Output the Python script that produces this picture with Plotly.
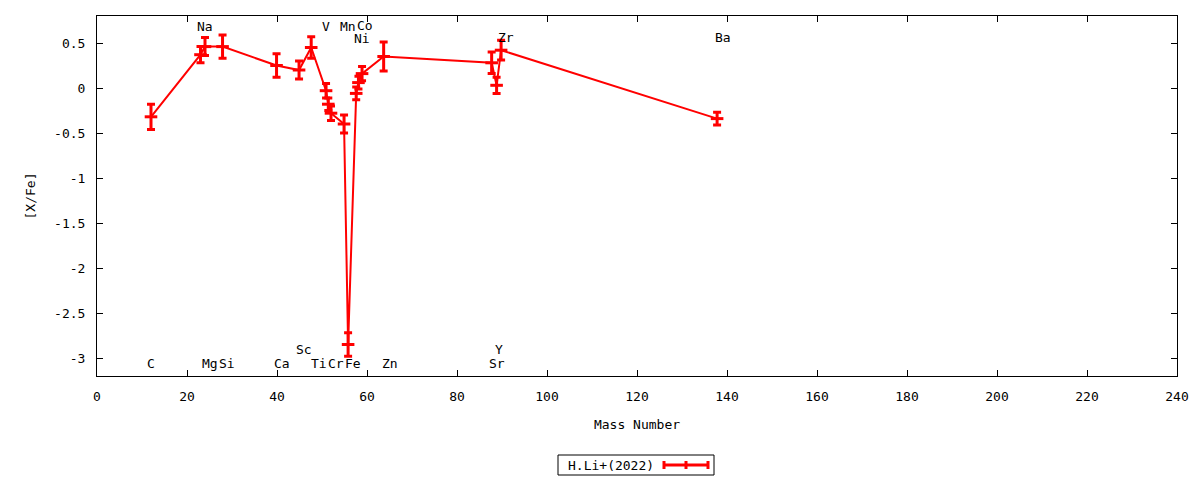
import plotly.graph_objects as go

# mass number, [X/Fe] and error for each measured point (line order)
mass = [12.0, 23.0, 24.0, 27.9, 39.9, 44.9, 47.6, 50.9, 51.4, 52.0,
        54.9, 55.8, 57.6, 58.1, 58.9, 63.7, 87.7, 88.8, 89.8, 137.8]
xfe = [-0.32, 0.37, 0.46, 0.46, 0.25, 0.20, 0.45, -0.03, -0.18, -0.28,
       -0.40, -2.85, -0.06, 0.06, 0.16, 0.35, 0.28, 0.03, 0.42, -0.34]
err = [0.14, 0.09, 0.10, 0.13, 0.13, 0.10, 0.12, 0.08, 0.07, 0.08,
       0.10, 0.13, 0.07, 0.07, 0.08, 0.16, 0.12, 0.09, 0.11, 0.07]

# element labels (text, x, y) as placed on the plot
label_text = ["Na", "V", "Mn", "Co", "Ni", "Zr", "Ba",
              "C", "Mg", "Si", "Ca", "Ti", "Cr", "Fe", "Zn", "Sr", "Sc", "Y"]
label_x = [24.0, 50.9, 55.8, 59.6, 58.9, 90.9, 139.1,
           12.0, 25.0, 28.8, 41.1, 49.3, 53.0, 56.9, 65.1, 88.9, 45.9, 89.3]
label_y = [0.68, 0.68, 0.68, 0.69, 0.55, 0.56, 0.56,
           -3.06, -3.06, -3.06, -3.06, -3.06, -3.06, -3.06, -3.06, -3.06, -2.9, -2.9]

RED = "#ff0000"
FONT = "DejaVu Sans Mono"

fig = go.Figure()
fig.add_trace(go.Scatter(
    x=mass, y=xfe,
    mode="lines+markers",
    line=dict(color=RED, width=2),
    marker=dict(symbol="line-ew-open", size=9, color=RED,
                line=dict(color=RED, width=3)),
    error_y=dict(type="data", array=err, color=RED, thickness=3, width=4),
    name="H.Li+(2022)",
    showlegend=False,
))

for t, x, y in zip(label_text, label_x, label_y):
    fig.add_annotation(x=x, y=y, text=t, showarrow=False,
                       xanchor="center", yanchor="middle", borderpad=0,
                       font=dict(family=FONT, size=13, color="black"))


# hand-built legend box (gnuplot style: text left, sample right)
# pixel -> paper, relative to the plot area (x 97..1177, y 16..376)
def px(x):
    return (x - 97) / 1080


def py(y):
    return (376 - y) / 360


fig.add_shape(type="rect", xref="paper", yref="paper",
              x0=px(558), x1=px(714), y0=py(475), y1=py(455),
              line=dict(color="black", width=1))
fig.add_annotation(xref="paper", yref="paper", x=px(611), y=py(465),
                   text="H.Li+(2022)", showarrow=False,
                   xanchor="center", yanchor="middle",
                   font=dict(family=FONT, size=13, color="black"))
fig.add_shape(type="line", xref="paper", yref="paper",
              x0=px(664), x1=px(708), y0=py(465), y1=py(465),
              line=dict(color=RED, width=3))
for cx in (664, 686, 708):
    fig.add_shape(type="line", xref="paper", yref="paper",
                  x0=px(cx), x1=px(cx), y0=py(461), y1=py(469),
                  line=dict(color=RED, width=3))

axis_common = dict(
    showline=True, linecolor="black", linewidth=1, mirror="ticks",
    ticks="inside", ticklen=6, tickcolor="black", tickwidth=1,
    showgrid=False, zeroline=False,
    tickfont=dict(family=FONT, size=13, color="black"),
)

fig.update_xaxes(range=[0, 240], dtick=20, tick0=0,
                 ticklabelstandoff=8,
                 title=dict(text="Mass Number", standoff=17,
                            font=dict(family=FONT, size=13, color="black")),
                 **axis_common)
fig.update_yaxes(range=[-3.2, 0.8], tickvals=[0.5, 0, -0.5, -1, -1.5, -2, -2.5, -3],
                 ticktext=["0.5", "0", "-0.5", "-1", "-1.5", "-2", "-2.5", "-3"],
                 ticklabelstandoff=8,
                 title=dict(text="[X/Fe]", standoff=15,
                            font=dict(family=FONT, size=13, color="black")),
                 **axis_common)

# page body adds an 8px offset, so margins are shifted to keep the
# plot area at x 97..1177, y 16..376 in the window
fig.update_layout(
    width=1200, height=480,
    margin=dict(l=89, r=31, t=8, b=112),
    paper_bgcolor="white", plot_bgcolor="white",
    font=dict(family=FONT, size=13, color="black"),
)

fig.write_html("out.html")
